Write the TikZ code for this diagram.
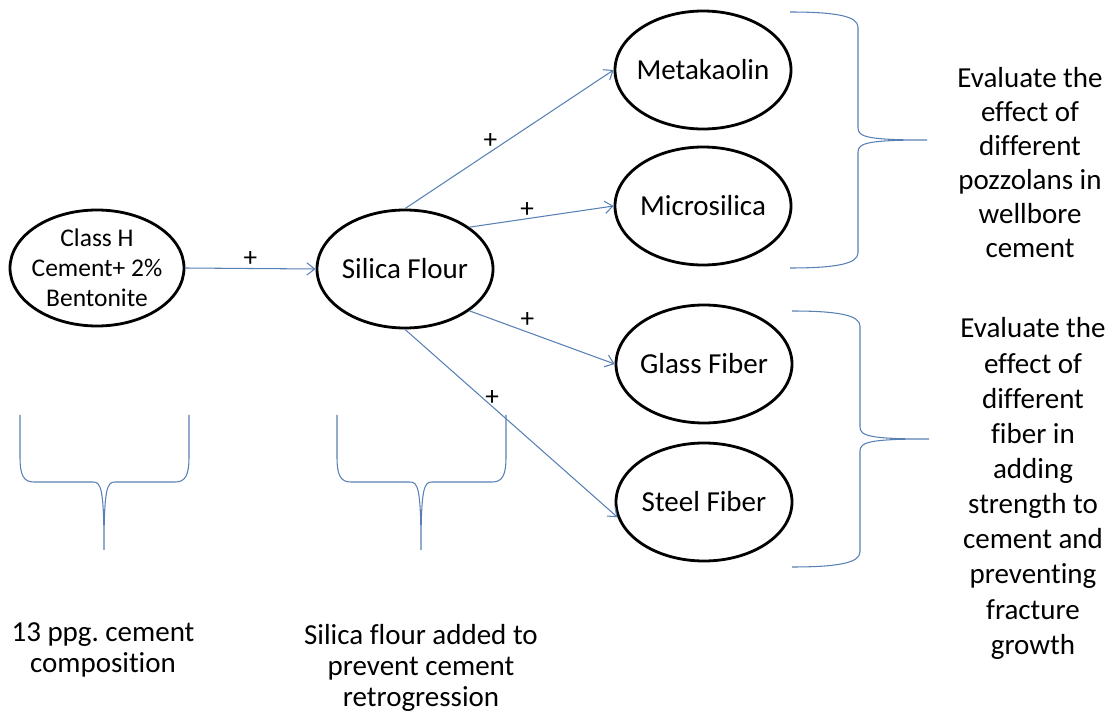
\documentclass[tikz,border=0pt]{standalone}
\usepackage{fontspec}
\setmainfont{Carlito}[Ligatures=NoCommon]
\usepackage{tikz}
\usetikzlibrary{arrows.meta}
\usetikzlibrary{shapes.geometric}
\definecolor{linkblue}{RGB}{88,128,180}
\tikzset{
mixture/.style={shape=ellipse, draw=black, line width=1.6pt, minimum width=3.52cm, minimum height=2.36cm, inner xsep=-10pt, inner ysep=0pt, font=\fontsize{16.5}{19}\selectfont},
addition/.style={draw=linkblue, line width=0.6pt, -{Straight Barb[length=4.5pt,width=7pt]}},
plussign/.style={font=\fontsize{15.5}{19}\selectfont, inner sep=0pt},
remark/.style={align=center, font=\fontsize{16.5}{19.6}\selectfont},
grouping/.style={draw=linkblue, line width=0.6pt},
downbrace/.pic={
  \draw[grouping] (0,0) -- (0,-0.84) .. controls (0,-1.22) and (0.08,-1.34) .. (0.28,-1.34) -- (1.46,-1.34) .. controls (1.62,-1.34) and (1.68,-1.46) .. (1.68,-2.70) .. controls (1.68,-1.46) and (1.74,-1.34) .. (1.90,-1.34) -- (3.10,-1.34) .. controls (3.30,-1.34) and (3.38,-1.22) .. (3.38,-0.84) -- (3.38,0);
},
sidebrace/.pic={
  \draw[grouping] (0,0) .. controls (0.9,0) and (1.36,-0.08) .. (1.36,-0.30) -- (1.36,-2.32) .. controls (1.36,-2.50) and (1.56,-2.56) .. (2.74,-2.56) .. controls (1.56,-2.56) and (1.36,-2.62) .. (1.36,-2.80) -- (1.36,-4.82) .. controls (1.36,-5.04) and (0.9,-5.12) .. (0,-5.12);
}
}

\begin{document}
\begin{tikzpicture}
    \useasboundingbox (0,0) rectangle (22.24,-14.38);

                \node[mixture, minimum width=3.48cm, minimum height=2.32cm, align=center, inner ysep=-8pt, font=\fontsize{14.5}{17}\selectfont] (H) at (1.94,-5.36) {Class H\\Cement+ 2\%\\Bentonite};
                \node[mixture] (SF) at (8.10,-5.38) {Silica Flour};
                \node[mixture] (MK) at (14.06,-1.40) {Metakaolin};
                \node[mixture] (MS) at (14.06,-4.12) {Microsilica};
                \node[mixture] (GF) at (14.08,-7.28) {Glass Fiber};
                \node[mixture] (StF) at (14.08,-10.04) {Steel Fiber};

                \draw[addition] (H.east) -- (SF.west) node[plussign, pos=0.5, above=1pt] (p1) {+};
                \draw[addition] (SF.north) -- (MK.west) node[plussign, pos=0.41, above=1.5pt] (p2) {+};
                \draw[addition] (SF.33) -- (MS.west) node[plussign, pos=0.4, above=0.5pt] (p3) {+};
                \draw[addition] (SF.-33) -- (GF.west) node[plussign, pos=0.4, above=2.5pt] (p4) {+};
                \draw[addition] (SF.south) -- (StF.190) node[plussign, pos=0.41, above=0pt] (p5) {+};

                \pic at (0.40,-8.30) {downbrace};
                \pic at (6.74,-8.30) {downbrace};
                \pic at (15.80,-0.24) {sidebrace};
                \pic at (15.84,-6.22) {sidebrace};

                \node[remark, font=\fontsize{16.5}{17.8}\selectfont] (comp) at (2.06,-13.0) {13 ppg.\ cement\\composition};
                \node[remark, font=\fontsize{16.5}{17.8}\selectfont] (retro) at (8.42,-13.36) {Silica flour added to\\prevent cement\\retrogression};
                \node[remark, font=\fontsize{16.5}{19.35}\selectfont] (pozz) at (20.60,-3.25) {Evaluate the\\effect of\\different\\pozzolans in\\wellbore\\cement};
                \node[remark, font=\fontsize{16.5}{20}\selectfont] (fib) at (20.66,-9.77) {Evaluate the\\effect of\\different\\fiber in\\adding\\strength to\\cement and\\preventing\\fracture\\growth};

            \end{tikzpicture}
\end{document}
